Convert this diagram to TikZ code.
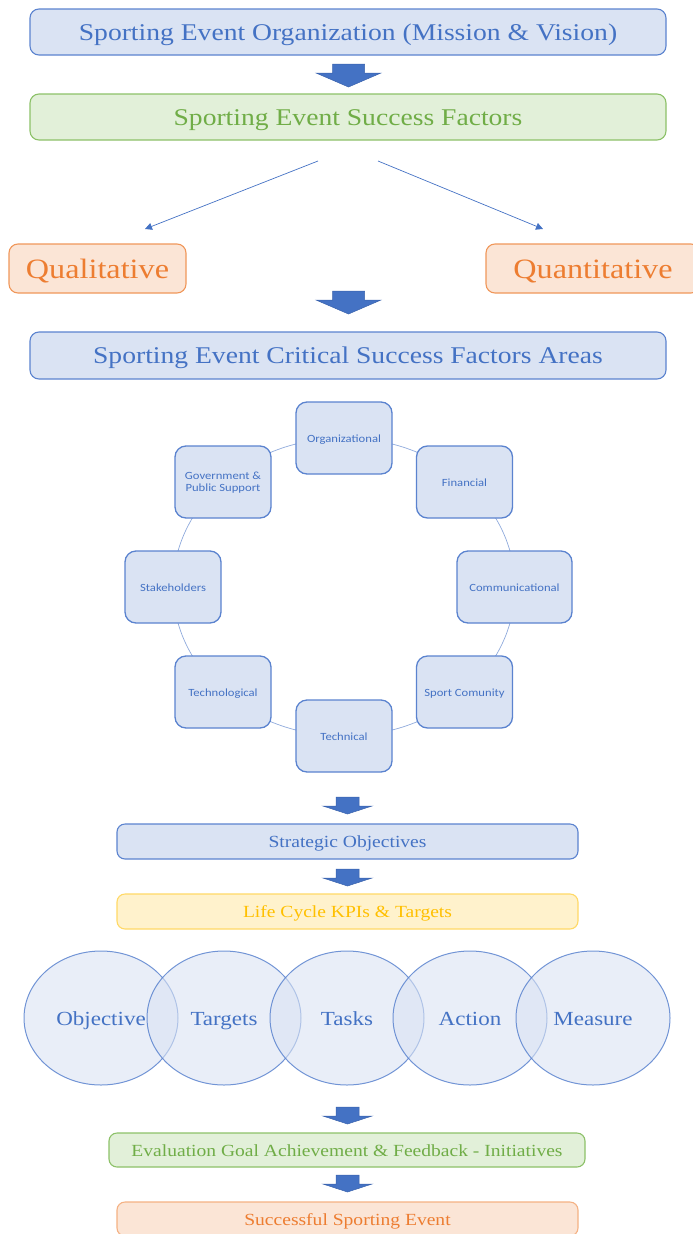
\documentclass[tikz,border=0pt]{standalone}
\usepackage{fontspec}
\usepackage{graphicx}
\setmainfont{Liberation Serif}
\newfontfamily\labelsans{Carlito}
\usetikzlibrary{arrows.meta,shapes.geometric}

% text is set a little wider than the font's natural proportions
\newcommand{\stretchx}[1]{\scalebox{1.15}[1]{#1}}

\definecolor{bluetext}{HTML}{4472C4}
\definecolor{bluefill}{HTML}{DAE3F3}
\definecolor{blueedge}{HTML}{5B83CF}
\definecolor{greentext}{HTML}{70AD47}
\definecolor{greenfill}{HTML}{E2F0D9}
\definecolor{greenedge}{HTML}{8CC168}
\definecolor{orangetext}{HTML}{ED7D31}
\definecolor{orangefill}{HTML}{FBE5D6}
\definecolor{orangeedge}{HTML}{F0975A}
\definecolor{orangeedgelight}{HTML}{F4B183}
\definecolor{yellowtext}{HTML}{FFC000}
\definecolor{yellowfill}{HTML}{FFF2CC}
\definecolor{yellowedge}{HTML}{FFD966}
\definecolor{arrowblue}{HTML}{4472C4}
\definecolor{arrowedge}{HTML}{3A62AC}
\definecolor{ringline}{HTML}{8FAADC}

\tikzset{
  % baseline sits about a third of the font size below the node centre
  setline/.style={text height=#1, text depth=0pt},
  panel/.style={draw, rounded corners=9pt, line width=1.1pt, inner sep=0pt,
    minimum width=636pt, minimum height=46pt, setline=16.6pt,
    font=\fontsize{24}{28}\selectfont},
  bluepanel/.style={panel, fill=bluefill, draw=blueedge, text=bluetext},
  greenpanel/.style={panel, fill=greenfill, draw=greenedge, text=greentext},
  sortbox/.style={draw, rounded corners=9pt, line width=1.1pt, inner sep=0pt,
    minimum height=49pt, fill=orangefill, draw=orangeedge, text=orangetext,
    setline=19.4pt, font=\fontsize{28}{32}\selectfont},
  slimbox/.style={draw, rounded corners=8pt, line width=1.1pt, inner sep=0pt,
    minimum width=461pt, minimum height=35pt, setline=12.4pt,
    font=\fontsize{17}{20}\selectfont},
  areabox/.style={draw=blueedge, fill=bluefill, text=bluetext, rounded corners=11pt,
    line width=1.3pt, inner sep=0pt, minimum width=96pt, minimum height=72pt,
    setline=8pt, font=\labelsans\fontsize{11}{13}\selectfont},
  arealabel/.style={text=bluetext, align=center, inner sep=0pt,
    font=\labelsans\fontsize{11}{13}\selectfont},
  ring/.style={ellipse, draw=blueedge, line width=1pt, draw opacity=0.85,
    fill=bluefill, fill opacity=0.6, text opacity=1, text=bluetext,
    minimum width=154pt, minimum height=134pt, inner sep=0pt, setline=14pt,
    font=\fontsize{20}{24}\selectfont},
  thinarrow/.style={draw=arrowblue, line width=0.7pt,
    -{Triangle[length=7pt,width=7pt]}},
  bigdown/.pic={
    \filldraw[fill=arrowblue, draw=arrowedge, line width=0.5pt]
      (-16,0) -- (16,0) -- (16,9) -- (32.5,9) -- (0,23) -- (-32.5,9) -- (-16,9) -- cycle;},
  smalldown/.pic={
    \filldraw[fill=arrowblue, draw=arrowedge, line width=0.5pt]
      (-11.5,0) -- (11.5,0) -- (11.5,9) -- (24.5,9) -- (0,17) -- (-24.5,9) -- (-11.5,9) -- cycle;}
}

\begin{document}
\begin{tikzpicture}[x=1pt, y=-1pt]
\useasboundingbox (0,0) rectangle (693,1234);

% mission and success factors
\node[bluepanel] (mission) at (348,32) {\stretchx{Sporting Event Organization (Mission \& Vision)}};
\pic at (348.5,64) {bigdown};
\node[greenpanel] (factors) at (348,117) {\stretchx{Sporting Event Success Factors}};

% split into the two kinds of factor
\coordinate (splitL) at (318,161);
\coordinate (splitR) at (378,161);
\coordinate (tipL) at (145,229);
\coordinate (tipR) at (543,229);
\draw[thinarrow] (splitL) -- (tipL);
\draw[thinarrow] (splitR) -- (tipR);

\node[sortbox, minimum width=177pt] (qual) at (97.5,268.5) {\stretchx{Qualitative}};
\node[sortbox, minimum width=214pt] (quant) at (593,268.5) {\stretchx{Quantitative}};

\pic at (348.5,291) {bigdown};
\node[bluepanel, minimum height=47pt] (areas) at (348,355.5) {\stretchx{Sporting Event Critical Success Factors Areas}};

% ring of critical success factor areas
\draw[ringline, line width=0.7pt] (344,587) ellipse [x radius=171, y radius=149];
\node[areabox] (org)   at (344,438) {\stretchx{Organizational}};
\node[areabox] (fin)   at (464.5,482) {\stretchx{Financial}};
\node[areabox, minimum width=115pt] (comm) at (514.5,587) {\stretchx{Communicational}};
\node[areabox] (comty) at (464.5,692) {\stretchx{Sport Comunity}};
\node[areabox] (tech)  at (344,736) {\stretchx{Technical}};
\node[areabox] (techn) at (223,692) {\stretchx{Technological}};
\node[areabox] (stake) at (173,587) {\stretchx{Stakeholders}};
\node[areabox] (gov)   at (223,482) {};
\node[arealabel] (govtext) at (223,483) {\stretchx{Government \&}\\[-1pt]\stretchx{Public Support}};

\pic at (347.5,797) {smalldown};
\node[slimbox, fill=bluefill, draw=blueedge, text=bluetext] (strat) at (347.5,841.5) {\stretchx{Strategic Objectives}};
\pic at (347.5,869) {smalldown};
\node[slimbox, fill=yellowfill, draw=yellowedge, text=yellowtext] (kpi) at (347.5,911.5) {\stretchx{Life Cycle KPIs \& Targets}};

% overlapping chain of steps
\node[ring] (objective) at (101,1018) {\stretchx{Objective}};
\node[ring] (targets)   at (224,1018) {\stretchx{Targets}};
\node[ring] (tasks)     at (347,1018) {\stretchx{Tasks}};
\node[ring] (action)    at (470,1018) {\stretchx{Action}};
\node[ring] (measure)   at (593,1018) {\stretchx{Measure}};

\pic at (347.5,1107) {smalldown};
\node[slimbox, minimum width=476pt, minimum height=34pt, fill=greenfill, draw=greenedge, text=greentext] (eval) at (347,1150) {\stretchx{Evaluation Goal Achievement \& Feedback - Initiatives}};
\pic at (347.5,1175) {smalldown};
\node[slimbox, minimum height=34pt, fill=orangefill, draw=orangeedgelight, text=orangetext] (success) at (347.5,1219) {\stretchx{Successful Sporting Event}};
\end{tikzpicture}
\end{document}
